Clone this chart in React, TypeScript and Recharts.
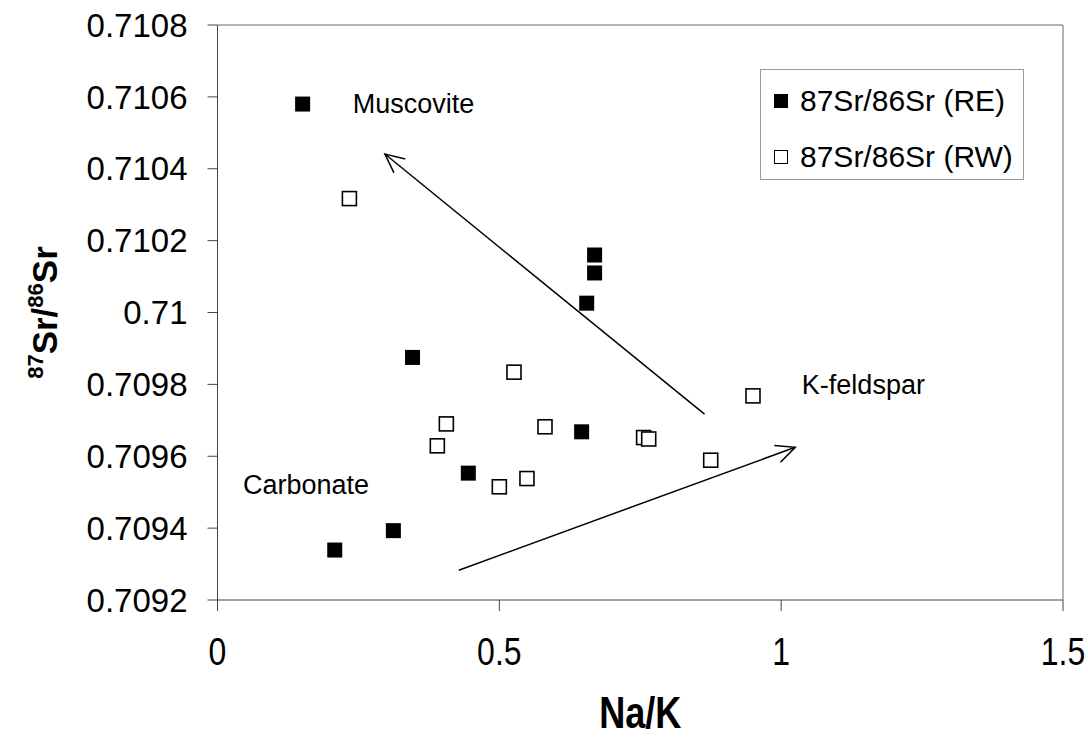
// Na/K vs 87Sr/86Sr scatter, RE (filled) and RW (open) samples with mixing arrows.
import { Legend, ReferenceDot, ReferenceLine, Scatter, ScatterChart, XAxis, YAxis } from 'recharts';

const FONT = '"Liberation Sans", Arial, sans-serif';
const INK = '#000';
const AXIS = '#444';
const FRAME = '#9a9a9a';
const SQUEEZE = 0.82; // no narrow face installed, so squeeze the x-axis texts

// RE samples (filled squares)
const RE_NAK = [0.151, 0.669, 0.669, 0.655, 0.346, 0.646, 0.445, 0.312, 0.208];
const RE_SR = [0.71058, 0.71016, 0.71011, 0.710026, 0.709875, 0.709668, 0.709553, 0.709393, 0.709339];

// RW samples (open squares)
const RW_NAK = [0.234, 0.526, 0.406, 0.39, 0.581, 0.5, 0.549, 0.95, 0.756, 0.765, 0.875];
const RW_SR = [0.710317, 0.709834, 0.70969, 0.709629, 0.709682, 0.709515, 0.709538, 0.709768, 0.709652, 0.709648, 0.709589];

const X_TICKS = [0, 0.5, 1, 1.5];
const Y_TICKS = [0.7092, 0.7094, 0.7096, 0.7098, 0.71, 0.7102, 0.7104, 0.7106, 0.7108];

// end-member trend arrows (tail -> head) in data units
const ARROW_TAIL_X = [0.864, 0.428];
const ARROW_TAIL_Y = [0.709717, 0.709283];
const ARROW_HEAD_X = [0.297, 1.025];
const ARROW_HEAD_Y = [0.710441, 0.709625];

// end-member labels, anchored at text start / baseline
const NOTE_TEXT = ['Muscovite', 'Carbonate', 'K-feldspar'];
const NOTE_X = [0.24, 0.0453, 1.0367];
const NOTE_Y = [0.710554, 0.709494, 0.709772];

const reData = RE_NAK.map((x, i) => ({ x, y: RE_SR[i] }));
const rwData = RW_NAK.map((x, i) => ({ x, y: RW_SR[i] }));

const FilledSquare = (p: any) => (
  <rect x={p.cx - 7.5} y={p.cy - 7.5} width={15} height={15} fill={INK} />
);
const OpenSquare = (p: any) => (
  <rect x={p.cx - 7} y={p.cy - 7} width={14} height={14} fill="#fff" stroke={INK} strokeWidth={1.6} />
);

function ArrowLine(props: any) {
  const { x1, y1, x2, y2 } = props;
  const ang = Math.atan2(y2 - y1, x2 - x1);
  const len = 21;
  const spread = 0.44;
  const b1 = `${x2 - len * Math.cos(ang - spread)},${y2 - len * Math.sin(ang - spread)}`;
  const b2 = `${x2 - len * Math.cos(ang + spread)},${y2 - len * Math.sin(ang + spread)}`;
  return (
    <g>
      <line x1={x1} y1={y1} x2={x2} y2={y2} stroke={INK} strokeWidth={1.5} />
      <polyline points={`${b1} ${x2},${y2} ${b2}`} fill="none" stroke={INK} strokeWidth={1.5} />
    </g>
  );
}

const noteShape = (text: string) => (p: any) => (
  <text x={p.cx} y={p.cy} fontFamily={FONT} fontSize={27} fill={INK}>
    {text}
  </text>
);

function XTick(props: any) {
  const { x, y, payload } = props;
  return (
    <g transform={`translate(${x},${y}) scale(${SQUEEZE},1)`}>
      <text x={0} y={0} dy={30} textAnchor="middle" fontFamily={FONT} fontSize={39} fill={INK}>
        {String(payload.value)}
      </text>
    </g>
  );
}

function XTitle(props: any) {
  const vb = props.viewBox || { x: 217.5, y: 600, width: 845.5, height: 137 };
  const cx = vb.x + vb.width / 2;
  const by = vb.y + 128;
  return (
    <g transform={`translate(${cx},${by}) scale(${SQUEEZE},1)`}>
      <text x={0} y={0} textAnchor="middle" fontFamily={FONT} fontWeight="bold" fontSize={44} fill={INK}>
        Na/K
      </text>
    </g>
  );
}

function YTitle(props: any) {
  const vb = props.viewBox || { x: 0, y: 25, width: 217, height: 575 };
  const cx = vb.x + 57;
  const cy = vb.y + vb.height / 2;
  return (
    <text
      x={cx}
      y={cy}
      transform={`rotate(-90 ${cx} ${cy})`}
      textAnchor="middle"
      fontFamily={FONT}
      fontWeight="bold"
      fill={INK}
    >
      <tspan fontSize={22} dy={-14}>87</tspan>
      <tspan fontSize={35} dy={14}>Sr/</tspan>
      <tspan fontSize={22} dy={-14}>86</tspan>
      <tspan fontSize={35} dy={14}>Sr</tspan>
    </text>
  );
}

function LegendBox(props: any) {
  const items = props.payload || [];
  return (
    <div
      style={{
        width: 264,
        height: 111,
        boxSizing: 'border-box',
        border: `1px solid ${FRAME}`,
        background: '#fff',
        paddingTop: 3,
        fontFamily: FONT,
        fontSize: 30,
        color: INK,
      }}
    >
      {items.map((e: any, i: number) => (
        <div key={i} style={{ display: 'flex', alignItems: 'center', height: 56, paddingLeft: 13 }}>
          <span
            style={{
              width: 14,
              height: 14,
              boxSizing: 'border-box',
              background: i === 0 ? INK : '#fff',
              border: `1.5px solid ${INK}`,
              display: 'inline-block',
            }}
          />
          <span style={{ marginLeft: 12, whiteSpace: 'nowrap' }}>{e.value}</span>
        </div>
      ))}
    </div>
  );
}

export default function App() {
  return (
    <div style={{ position: 'absolute', left: 0, top: 0, width: 1088, height: 737, background: '#fff' }}>
      <ScatterChart width={1088} height={737} margin={{ top: 25, right: 25, bottom: 0, left: 0 }}>
        <XAxis
          type="number"
          dataKey="x"
          domain={[0, 1.5]}
          ticks={X_TICKS}
          tickSize={11}
          tickMargin={24}
          stroke={AXIS}
          tick={XTick}
          height={137}
          label={{ content: (p: any) => <XTitle {...p} /> }}
        />
        <YAxis
          type="number"
          dataKey="y"
          domain={[0.7092, 0.7108]}
          ticks={Y_TICKS}
          allowDataOverflow
          tickSize={10}
          tickMargin={20}
          stroke={AXIS}
          width={217.5}
          tick={{ fill: INK, fontSize: 33, fontFamily: FONT }}
          tickFormatter={(v: number) => String(parseFloat(v.toFixed(4)))}
          label={{ content: (p: any) => <YTitle {...p} /> }}
        />
        <ReferenceLine y={0.7108} stroke={FRAME} strokeWidth={1.5} />
        <ReferenceLine x={1.5} stroke={FRAME} strokeWidth={1.5} />
        {ARROW_TAIL_X.map((tx, i) => (
          <ReferenceLine
            key={`arrow-${i}`}
            segment={[
              { x: tx, y: ARROW_TAIL_Y[i] },
              { x: ARROW_HEAD_X[i], y: ARROW_HEAD_Y[i] },
            ]}
            shape={ArrowLine}
          />
        ))}
        {NOTE_TEXT.map((t, i) => (
          <ReferenceDot key={`note-${i}`} x={NOTE_X[i]} y={NOTE_Y[i]} r={0} shape={noteShape(t)} />
        ))}
        <Scatter name="87Sr/86Sr (RE)" data={reData} shape={FilledSquare} isAnimationActive={false} />
        <Scatter name="87Sr/86Sr (RW)" data={rwData} shape={OpenSquare} isAnimationActive={false} />
        <Legend
          layout="vertical"
          align="center"
          verticalAlign="middle"
          content={LegendBox}
          wrapperStyle={{ left: 760, top: 69, width: 264, height: 111 }}
        />
      </ScatterChart>
    </div>
  );
}
